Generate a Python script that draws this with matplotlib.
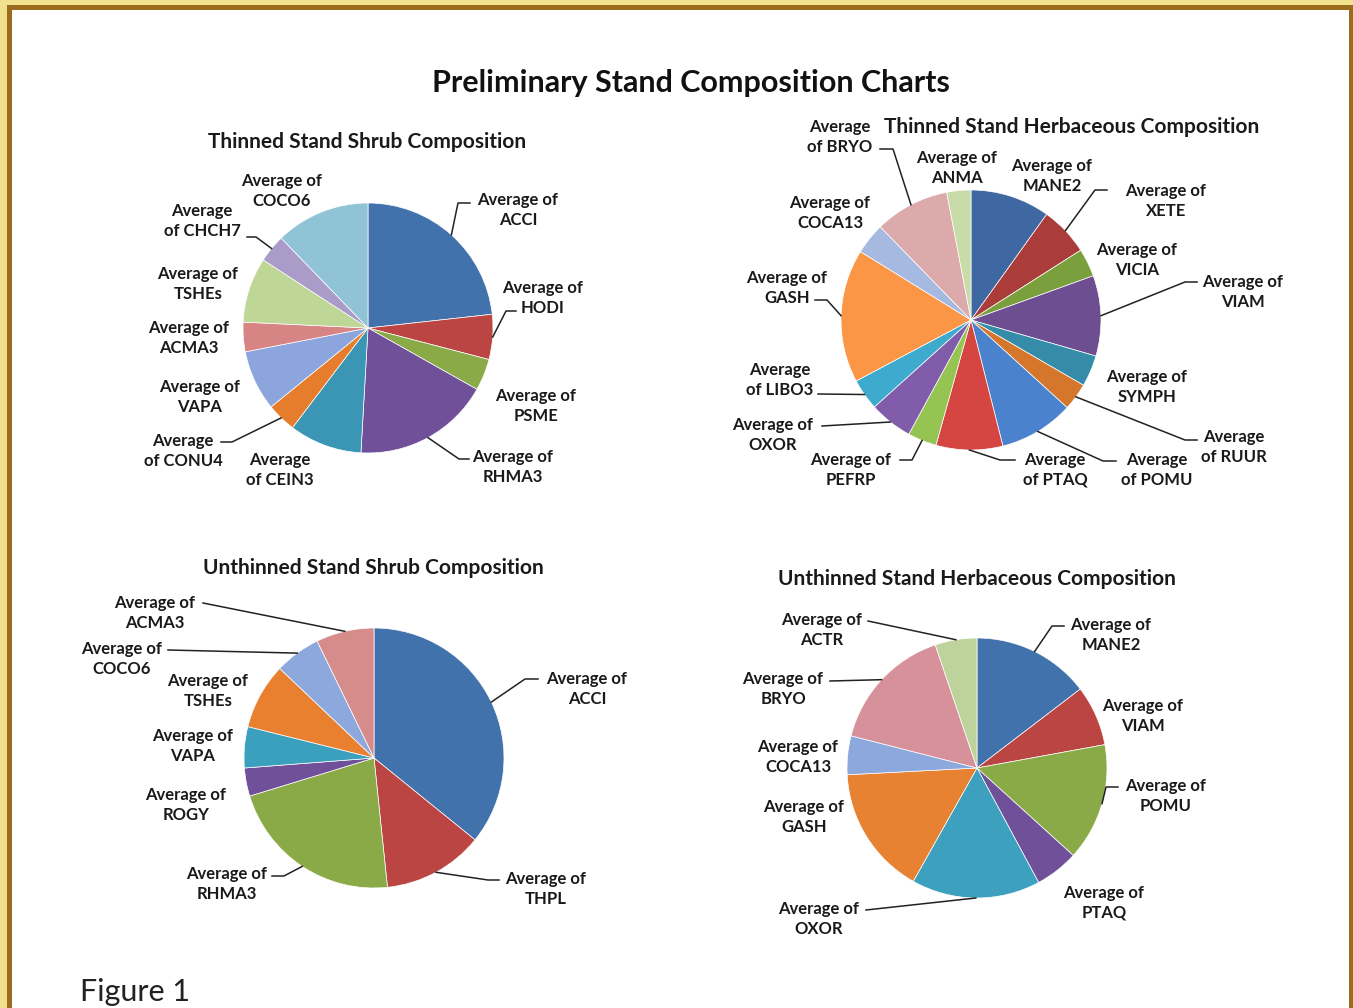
import numpy as np
import matplotlib
matplotlib.use("Agg")
import matplotlib.pyplot as plt
import matplotlib.transforms as mtransforms
from matplotlib.lines import Line2D
from matplotlib.patches import Rectangle

W, H = 1353, 1008

# ---- data -------------------------------------------------------------
thin_shrub_species = ["ACCI", "HODI", "PSME", "RHMA3", "CEIN3", "CONU4",
                      "VAPA", "ACMA3", "TSHEs", "CHCH7", "COCO6"]
thin_shrub_values = [23.2, 5.8, 4.1, 17.7, 9.4, 3.8, 7.8, 3.8, 8.4, 3.6, 12.2]

thin_herb_species = ["MANE2", "XETE", "VICIA", "VIAM", "SYMPH", "RUUR", "POMU",
                     "PTAQ", "PEFRP", "OXOR", "LIBO3", "GASH", "COCA13", "BRYO",
                     "ANMA"]
thin_herb_values = [9.9, 6.1, 3.5, 10.0, 3.9, 3.4, 9.3, 8.3, 3.6, 5.4, 3.9,
                    16.6, 3.9, 9.3, 3.0]

unthin_shrub_species = ["ACCI", "THPL", "RHMA3", "ROGY", "VAPA", "TSHEs",
                        "COCO6", "ACMA3"]
unthin_shrub_values = [35.8, 12.5, 21.9, 3.5, 5.1, 8.2, 5.7, 7.2]

unthin_herb_species = ["MANE2", "VIAM", "POMU", "PTAQ", "OXOR", "GASH",
                       "COCA13", "BRYO", "ACTR"]
unthin_herb_values = [14.6, 7.5, 14.6, 5.4, 16.0, 16.0, 4.8, 15.8, 5.2]

# ---- styling ------------------------------------------------------------
FONT = ["Lato", "DejaVu Sans"]
TXT = "#1a1a1a"

thin_shrub_colors = ["#4272AC", "#BA4542", "#8AAA48", "#705098", "#3A96B4",
                     "#E67D2D", "#8CA5DC", "#D78484", "#BED696", "#AA9BC8",
                     "#91C3D7"]
thin_herb_colors = ["#3F67A2", "#AA3C3A", "#7AA03E", "#6C4E91", "#348CA8",
                    "#D4762C", "#4A82CD", "#D54542", "#96C452", "#805CAA",
                    "#3EAACD", "#FA9646", "#A5B9E1", "#DCAAAA", "#C8DCAA"]
unthin_shrub_colors = ["#4272AC", "#BA4542", "#8AAA48", "#705098", "#3AA0BE",
                       "#E88030", "#8CA8DC", "#D78C8C"]
unthin_herb_colors = ["#4272AC", "#BA4542", "#8AAA48", "#705098", "#3CA0BE",
                      "#E68232", "#8CA8DC", "#D7919A", "#BED29B"]

# label layout (pixel positions, top-left origin): text centre and
# leader-line bend points running outward from the wedge
thin_shrub_layout = {
    "center": (368, 328), "r": 125,
    "title": ("Thinned Stand Shrub Composition", 367, 142),
    "short": {"CEIN3", "CONU4", "CHCH7"},
    "labels": [((518, 210), [(458, 203), (470, 203)]),
               ((543, 298), [(506, 311), (516, 311)]),
               ((536, 406), None),
               ((513, 467), [(459, 459), (469, 459)]),
               ((280, 470), None),
               ((183, 451), [(232, 442), (221, 442)]),
               ((200, 397), None),
               ((189, 338), None),
               ((198, 284), None),
               ((202, 221), [(256, 237), (247, 237)]),
               ((282, 191), None)],
}
thin_herb_layout = {
    "center": (971, 320), "r": 130,
    "title": ("Thinned Stand Herbaceous Composition", 1072, 127),
    "short": {"BRYO", "LIBO3", "PTAQ", "POMU", "RUUR"},
    "labels": [((1052, 176), None),
               ((1166, 201), [(1095, 190), (1107, 190)]),
               ((1137, 260), None),
               ((1243, 292), [(1185, 282), (1197, 282)]),
               ((1147, 387), None),
               ((1234, 447), [(1185, 440), (1197, 440)]),
               ((1157, 470), [(1103, 461), (1116, 461)]),
               ((1055, 470), [(1000, 460), (1015, 460)]),
               ((851, 470), [(912, 460), (900, 460)]),
               ((773, 435), [(822, 426)]),
               ((780, 380), [(818, 394)]),
               ((787, 288), [(827, 300), (815, 300)]),
               ((830, 213), None),
               ((840, 137), [(893, 149), (880, 149)]),
               ((957, 168), None)],
}
unthin_shrub_layout = {
    "center": (374, 758), "r": 130,
    "title": ("Unthinned Stand Shrub Composition", 373, 568),
    "short": set(),
    "labels": [((587, 689), [(525, 679), (538, 679)]),
               ((546, 889), [(488, 880), (499, 880)]),
               ((227, 884), [(284, 876), (272, 876)]),
               ((186, 805), None),
               ((193, 746), None),
               ((208, 691), None),
               ((122, 659), [(168, 650)]),
               ((155, 613), [(203, 603)])],
}
unthin_herb_layout = {
    "center": (977, 768), "r": 130,
    "title": ("Unthinned Stand Herbaceous Composition", 977, 579),
    "short": set(),
    "labels": [((1111, 635), [(1052, 626), (1064, 626)]),
               ((1143, 716), None),
               ((1166, 796), [(1106, 787), (1118, 787)]),
               ((1104, 903), None),
               ((819, 919), [(866, 910)]),
               ((804, 817), None),
               ((798, 757), None),
               ((783, 689), [(830, 681)]),
               ((822, 630), [(868, 621)])],
}

# ---- figure -------------------------------------------------------------
fig = plt.figure(figsize=(W / 100, H / 100), dpi=100)
fig.patch.set_facecolor("#F1E18E")
px = mtransforms.Affine2D().scale(1.0 / W, -1.0 / H).translate(0, 1) + fig.transFigure

# page frame: gold rule on a pale border
fig.add_artist(Rectangle((7, 5), W, H, transform=px, facecolor="#9B6C1E",
                         edgecolor="none", zorder=0))
fig.add_artist(Rectangle((12, 10), W - 12 - 4, H, transform=px,
                         facecolor="white", edgecolor="none", zorder=0))

fig.text(691, 83, "Preliminary Stand Composition Charts", transform=px,
         ha="center", va="center", fontsize=22, fontweight="bold",
         family=FONT, color="#111111")
fig.text(80, 992, "Figure 1", transform=px, ha="left", va="center",
         fontsize=22, family=FONT, color="#222222")


def draw_pie(species, values, colors, layout):
    cx, cy = layout["center"]
    r = layout["r"]
    ax = fig.add_axes([(cx - r) / W, 1 - (cy + r) / H, 2 * r / W, 2 * r / H])
    wedges, _ = ax.pie(values, colors=colors, startangle=90, counterclock=False,
                       radius=1.0,
                       wedgeprops=dict(edgecolor="white", linewidth=0.5))
    ax.set_xlim(-1, 1)
    ax.set_ylim(-1, 1)
    ax.axis("off")

    title, tx, ty = layout["title"]
    fig.text(tx, ty, title, transform=px, ha="center", va="center",
             fontsize=15, fontweight="bold", family=FONT, color=TXT)

    for name, w, ((lx, ly), leader) in zip(species, wedges, layout["labels"]):
        if name in layout["short"]:
            label = f"Average\nof {name}"
        else:
            label = f"Average of\n{name}"
        fig.text(lx, ly, label, transform=px, ha="center", va="center",
                 multialignment="center", fontsize=12, fontweight="bold",
                 family=FONT, color=TXT, linespacing=1.25)
        if leader:
            mid = np.deg2rad((w.theta1 + w.theta2) / 2)
            sx = cx + r * np.cos(mid)
            sy = cy - r * np.sin(mid)
            xs = [sx] + [p[0] for p in leader]
            ys = [sy] + [p[1] for p in leader]
            fig.add_artist(Line2D(xs, ys, transform=px, color="#222222",
                                  linewidth=1.1, zorder=5))


draw_pie(thin_shrub_species, thin_shrub_values, thin_shrub_colors, thin_shrub_layout)
draw_pie(thin_herb_species, thin_herb_values, thin_herb_colors, thin_herb_layout)
draw_pie(unthin_shrub_species, unthin_shrub_values, unthin_shrub_colors, unthin_shrub_layout)
draw_pie(unthin_herb_species, unthin_herb_values, unthin_herb_colors, unthin_herb_layout)

fig.savefig("out.png", dpi=100, facecolor=fig.get_facecolor())
